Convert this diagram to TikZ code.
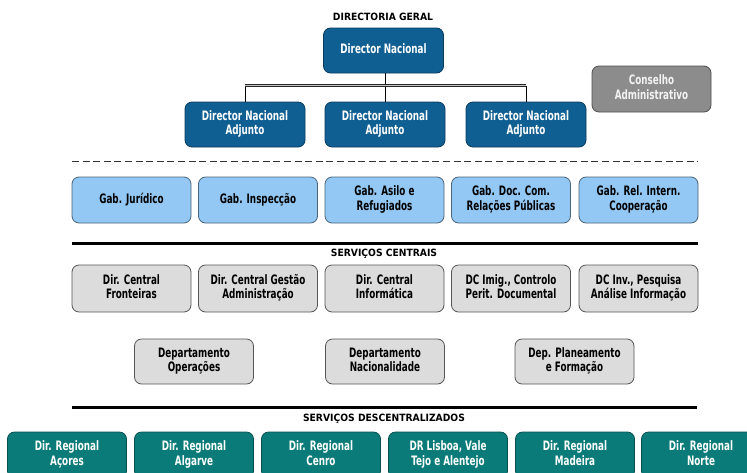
\documentclass[tikz,border=0pt]{standalone}
\usepackage{fontspec}
\setmainfont{DejaVu Sans}
\usepackage{graphicx}
\definecolor{dblue}{HTML}{105F93}
\definecolor{dblueb}{HTML}{0A3C5E}
\definecolor{lblue}{HTML}{92C8F3}
\definecolor{lblueb}{HTML}{4A6478}
\definecolor{lgray}{HTML}{DCDCDC}
\definecolor{lgrayb}{HTML}{555555}
\definecolor{mgray}{HTML}{8C8C8C}
\definecolor{mgrayb}{HTML}{505050}
\definecolor{tealc}{HTML}{0B7B79}
\definecolor{tealb}{HTML}{06504F}
\newcommand\bxt[1]{\scalebox{0.8}[1.18]{\fontsize{11}{12.7}\selectfont\bfseries\begin{tabular}{@{}c@{}}#1\end{tabular}}}
\newcommand\hdt[1]{\scalebox{0.92}[1.0]{\fontsize{10}{12}\selectfont\bfseries #1}}
\tikzset{
  box/.style={rectangle, rounded corners=7pt, minimum width=119pt, minimum height=46pt, inner sep=0pt, line width=0.8pt},
  dbox/.style={box, fill=dblue, draw=dblueb, text=white},
  cbox/.style={box, fill=mgray, draw=mgrayb, text=white!95!black},
  lbbox/.style={box, fill=lblue, draw=lblueb, text=black},
  lgbox/.style={box, fill=lgray, draw=lgrayb, text=black},
  tbox/.style={box, fill=tealc, draw=tealb, text=white},
  hdr/.style={inner sep=0pt, text=black},
  conn/.style={black, line width=0.9pt},
  sepline/.style={black, line width=3pt},
}
\begin{document}
\begin{tikzpicture}[x=1pt, y=-1pt]
\path[use as bounding box] (0,0) rectangle (747,472);
\clip (0,0) rectangle (747,472);
\fill[white] (0,0) rectangle (747,472);

% Directoria geral
\node[hdr] (dg) at (383,17) {\hdt{DIRECTORIA GERAL}};
\node[dbox, minimum width=120pt, minimum height=45pt] (dn) at (383.5,50.5) {\bxt{Director Nacional}};
\node[dbox, minimum width=120pt, minimum height=45pt] (a1) at (245,124.5) {\bxt{Director Nacional\\Adjunto}};
\node[dbox, minimum width=120pt, minimum height=45pt] (a2) at (385,124.5) {\bxt{Director Nacional\\Adjunto}};
\node[dbox, minimum width=120pt, minimum height=45pt] (a3) at (526,124.5) {\bxt{Director Nacional\\Adjunto}};
\node[cbox] (cons) at (651.5,89) {\bxt{Conselho\\Administrativo}};

\coordinate (hb) at (385,85.5);
\draw[conn] (dn.south -| a2.north) -- (a2.north);
\draw[conn] (a1.north |- hb) -- (a1.north);
\draw[conn] (a3.north |- hb) -- (a3.north);
\draw[black!85, line width=0.7pt, double=gray!45, double distance=1.2pt] (a1.north |- hb) -- (a3.north |- hb);

% dashed separator
\coordinate (dl) at (72,161.5);
\coordinate (dr) at (698,161.5);
\draw[black!80, line width=1.4pt, dash pattern=on 7pt off 3.6pt] (dl) -- (dr);

% Gabinetes
\node[lbbox] (g1) at (131.5,200) {\bxt{Gab. Jurídico}};
\node[lbbox] (g2) at (258,200) {\bxt{Gab. Inspecção}};
\node[lbbox] (g3) at (384.5,200) {\bxt{Gab. Asilo e\\Refugiados}};
\node[lbbox] (g4) at (511,200) {\bxt{Gab. Doc. Com.\\Relações Públicas}};
\node[lbbox] (g5) at (638.5,200) {\bxt{Gab. Rel. Intern.\\Cooperação}};

% Servicos centrais
\coordinate (s1l) at (72,243.5);
\coordinate (s1r) at (698,243.5);
\draw[sepline] (s1l) -- (s1r);
\node[hdr] (sc) at (384,254) {\hdt{SERVIÇOS CENTRAIS}};

\node[lgbox, minimum height=47pt] (c1) at (131.5,288.5) {\bxt{Dir. Central\\Fronteiras}};
\node[lgbox, minimum height=47pt] (c2) at (258,288.5) {\bxt{Dir. Central Gestão\\Administração}};
\node[lgbox, minimum height=47pt] (c3) at (384.5,288.5) {\bxt{Dir. Central\\Informática}};
\node[lgbox, minimum height=47pt] (c4) at (511,288.5) {\bxt{DC Imig., Controlo\\Perit. Documental}};
\node[lgbox, minimum height=47pt] (c5) at (638.5,288.5) {\bxt{DC Inv., Pesquisa\\Análise Informação}};

\node[lgbox, minimum height=45pt] (d1) at (194,361.5) {\bxt{Departamento\\Operações}};
\node[lgbox, minimum height=45pt] (d2) at (385,361.5) {\bxt{Departamento\\Nacionalidade}};
\node[lgbox, minimum height=45pt] (d3) at (574.5,361.5) {\bxt{Dep. Planeamento\\e Formação}};

% Servicos descentralizados
\coordinate (s2l) at (72,407);
\coordinate (s2r) at (697,407);
\draw[sepline] (s2l) -- (s2r);
\node[hdr] (sd) at (384,419) {\hdt{SERVIÇOS DESCENTRALIZADOS}};

\node[tbox] (r1) at (67,455) {\bxt{Dir. Regional\\Açores}};
\node[tbox] (r2) at (194,455) {\bxt{Dir. Regional\\Algarve}};
\node[tbox] (r3) at (321,455) {\bxt{Dir. Regional\\Cenro}};
\node[tbox] (r4) at (448,455) {\bxt{DR Lisboa, Vale\\Tejo e Alentejo}};
\node[tbox] (r5) at (575,455) {\bxt{Dir. Regional\\Madeira}};
\node[tbox] (r6) at (701,455) {\bxt{Dir. Regional\\Norte}};
\end{tikzpicture}
\end{document}
